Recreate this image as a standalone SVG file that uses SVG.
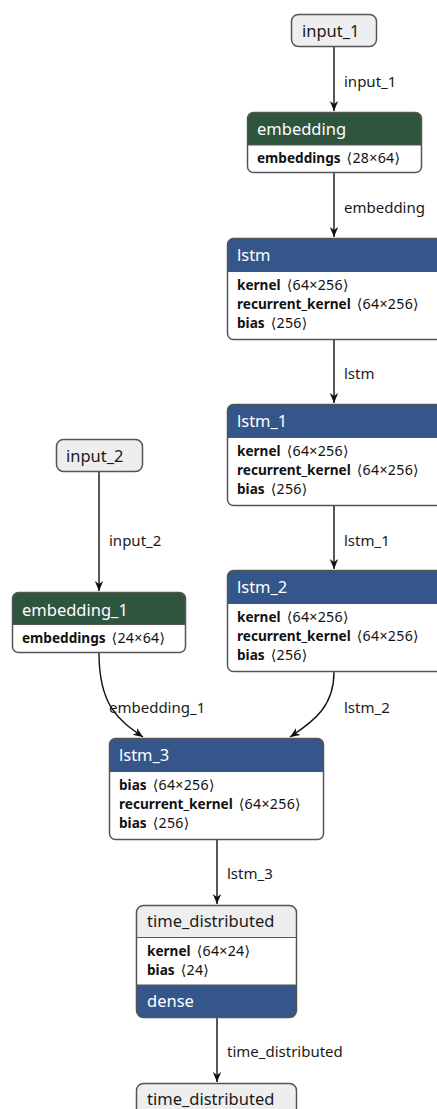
<svg xmlns="http://www.w3.org/2000/svg" width="437" height="1109" viewBox="0 0 437 1109">
<style>
text{font-family:"Noto Sans","DejaVu Sans",sans-serif;}
.hd{font-size:16.5px;fill:#ffffff;}
.hdk{font-size:16.5px;fill:#1a1a1a;}
.bd{font-size:13.6px;fill:#111111;}
.bd tspan.k{font-weight:bold;}
.bd tspan.v{font-size:14.2px;letter-spacing:0.3px;}
.el{font-size:15px;fill:#1a1a1a;}
.out{fill:none;stroke:#555555;stroke-width:1.5;}
.sep{stroke:#555555;stroke-width:1.2;}
.gray{fill:#eeeeee;}
.green{fill:#30553f;}
.blue{fill:#34568b;}
.white{fill:#ffffff;}
.edge{fill:none;stroke:#111111;stroke-width:1.4;marker-end:url(#ah);}
</style>
<defs>
<marker id="ah" markerUnits="userSpaceOnUse" markerWidth="10" markerHeight="10" viewBox="0 0 10 10" refX="10" refY="5" orient="auto">
<path d="M0,0.8 L10,5 L0,9.2 L3,5 Z" fill="#111111"/>
</marker>
</defs>
<rect width="437" height="1109" fill="#ffffff"/>
<g id="connectors">
<path class="edge" d="M334,47 V111"/>
<path class="edge" d="M334,173 V237"/>
<path class="edge" d="M334,340 V403"/>
<path class="edge" d="M334,506 V569"/>
<path class="edge" d="M99,472 V591"/>
<path class="edge" d="M99,653 C99,705 118,720 143,737"/>
<path class="edge" d="M334,672 C334,705 316,720 290,737"/>
<path class="edge" d="M217,840 V904"/>
<path class="edge" d="M217,1018 V1082"/>
<text class="el" x="344" y="87">input_1</text>
<text class="el" x="344" y="213">embedding</text>
<text class="el" x="344" y="379">lstm</text>
<text class="el" x="344" y="546">lstm_1</text>
<text class="el" x="109" y="546">input_2</text>
<text class="el" x="109" y="713">embedding_1</text>
<text class="el" x="344" y="713">lstm_2</text>
<text class="el" x="227" y="879">lstm_3</text>
<text class="el" x="227" y="1057">time_distributed</text>
</g>
<g id="input_1">
<rect class="gray" x="291.5" y="14.5" width="85" height="32" rx="7"/>
<rect class="out" x="291.5" y="14.5" width="85" height="32" rx="7"/>
<text class="hdk" x="302" y="37">input_1</text>
</g>
<g id="embedding">
<rect class="white" x="247.5" y="112.5" width="174" height="60" rx="6"/>
<path class="green" d="M247.5,145 V118.5 A6,6 0 0 1 253.5,112.5 H415.5 A6,6 0 0 1 421.5,118.5 V145 Z"/>
<line class="sep" x1="247.5" y1="145" x2="421.5" y2="145"/>
<rect class="out" x="247.5" y="112.5" width="174" height="60" rx="6"/>
<text class="hd" x="257" y="135">embedding</text>
<text class="bd" x="257" y="163"><tspan class="k">embeddings</tspan><tspan class="v" dx="6">⟨28×64⟩</tspan></text>
</g>
<g id="lstm">
<rect class="white" x="227.5" y="238.5" width="216" height="101" rx="6"/>
<path class="blue" d="M227.5,271.5 V244.5 A6,6 0 0 1 233.5,238.5 H437.5 A6,6 0 0 1 443.5,244.5 V271.5 Z"/>
<line class="sep" x1="227.5" y1="271.5" x2="443.5" y2="271.5"/>
<rect class="out" x="227.5" y="238.5" width="216" height="101" rx="6"/>
<text class="hd" x="237" y="261">lstm</text>
<text class="bd" x="237" y="290"><tspan class="k">kernel</tspan><tspan class="v" dx="6">⟨64×256⟩</tspan></text>
<text class="bd" x="237" y="309"><tspan class="k">recurrent_kernel</tspan><tspan class="v" dx="6">⟨64×256⟩</tspan></text>
<text class="bd" x="237" y="328"><tspan class="k">bias</tspan><tspan class="v" dx="6">⟨256⟩</tspan></text>
</g>
<g id="lstm_1">
<rect class="white" x="227.5" y="404.5" width="216" height="101" rx="6"/>
<path class="blue" d="M227.5,437.5 V410.5 A6,6 0 0 1 233.5,404.5 H437.5 A6,6 0 0 1 443.5,410.5 V437.5 Z"/>
<line class="sep" x1="227.5" y1="437.5" x2="443.5" y2="437.5"/>
<rect class="out" x="227.5" y="404.5" width="216" height="101" rx="6"/>
<text class="hd" x="237" y="427">lstm_1</text>
<text class="bd" x="237" y="456"><tspan class="k">kernel</tspan><tspan class="v" dx="6">⟨64×256⟩</tspan></text>
<text class="bd" x="237" y="475"><tspan class="k">recurrent_kernel</tspan><tspan class="v" dx="6">⟨64×256⟩</tspan></text>
<text class="bd" x="237" y="494"><tspan class="k">bias</tspan><tspan class="v" dx="6">⟨256⟩</tspan></text>
</g>
<g id="lstm_2">
<rect class="white" x="227.5" y="570.5" width="216" height="101" rx="6"/>
<path class="blue" d="M227.5,603.5 V576.5 A6,6 0 0 1 233.5,570.5 H437.5 A6,6 0 0 1 443.5,576.5 V603.5 Z"/>
<line class="sep" x1="227.5" y1="603.5" x2="443.5" y2="603.5"/>
<rect class="out" x="227.5" y="570.5" width="216" height="101" rx="6"/>
<text class="hd" x="237" y="593">lstm_2</text>
<text class="bd" x="237" y="622"><tspan class="k">kernel</tspan><tspan class="v" dx="6">⟨64×256⟩</tspan></text>
<text class="bd" x="237" y="641"><tspan class="k">recurrent_kernel</tspan><tspan class="v" dx="6">⟨64×256⟩</tspan></text>
<text class="bd" x="237" y="660"><tspan class="k">bias</tspan><tspan class="v" dx="6">⟨256⟩</tspan></text>
</g>
<g id="input_2">
<rect class="gray" x="56.5" y="439.5" width="86" height="32" rx="7"/>
<rect class="out" x="56.5" y="439.5" width="86" height="32" rx="7"/>
<text class="hdk" x="66" y="462">input_2</text>
</g>
<g id="embedding_1">
<rect class="white" x="12.5" y="592.5" width="173" height="60" rx="6"/>
<path class="green" d="M12.5,624.5 V598.5 A6,6 0 0 1 18.5,592.5 H179.5 A6,6 0 0 1 185.5,598.5 V624.5 Z"/>
<line class="sep" x1="12.5" y1="624.5" x2="185.5" y2="624.5"/>
<rect class="out" x="12.5" y="592.5" width="173" height="60" rx="6"/>
<text class="hd" x="22" y="616">embedding_1</text>
<text class="bd" x="22" y="643"><tspan class="k">embeddings</tspan><tspan class="v" dx="6">⟨24×64⟩</tspan></text>
</g>
<g id="lstm_3">
<rect class="white" x="109.5" y="738.5" width="214" height="101" rx="6"/>
<path class="blue" d="M109.5,771.5 V744.5 A6,6 0 0 1 115.5,738.5 H317.5 A6,6 0 0 1 323.5,744.5 V771.5 Z"/>
<line class="sep" x1="109.5" y1="771.5" x2="323.5" y2="771.5"/>
<rect class="out" x="109.5" y="738.5" width="214" height="101" rx="6"/>
<text class="hd" x="119" y="761">lstm_3</text>
<text class="bd" x="119" y="790"><tspan class="k">bias</tspan><tspan class="v" dx="6">⟨64×256⟩</tspan></text>
<text class="bd" x="119" y="809"><tspan class="k">recurrent_kernel</tspan><tspan class="v" dx="6">⟨64×256⟩</tspan></text>
<text class="bd" x="119" y="828"><tspan class="k">bias</tspan><tspan class="v" dx="6">⟨256⟩</tspan></text>
</g>
<g id="time_distributed">
<rect class="white" x="136.5" y="905.5" width="160" height="112" rx="7"/>
<path class="gray" d="M136.5,937.5 V912.5 A7,7 0 0 1 143.5,905.5 H289.5 A7,7 0 0 1 296.5,912.5 V937.5 Z"/>
<path class="blue" d="M136.5,985 H296.5 V1010.5 A7,7 0 0 1 289.5,1017.5 H143.5 A7,7 0 0 1 136.5,1010.5 Z"/>
<line class="sep" x1="136.5" y1="937.5" x2="296.5" y2="937.5"/>
<line class="sep" x1="136.5" y1="985" x2="296.5" y2="985"/>
<rect class="out" x="136.5" y="905.5" width="160" height="112" rx="7"/>
<text class="hdk" x="147" y="927">time_distributed</text>
<text class="bd" x="147" y="956"><tspan class="k">kernel</tspan><tspan class="v" dx="6">⟨64×24⟩</tspan></text>
<text class="bd" x="147" y="975"><tspan class="k">bias</tspan><tspan class="v" dx="6">⟨24⟩</tspan></text>
<text class="hd" x="147" y="1007">dense</text>
</g>
<g id="time_distributed_2">
<rect class="gray" x="136.5" y="1083.5" width="160" height="40" rx="7"/>
<rect class="out" x="136.5" y="1083.5" width="160" height="40" rx="7"/>
<text class="hdk" x="147" y="1105">time_distributed</text>
</g>
</svg>
